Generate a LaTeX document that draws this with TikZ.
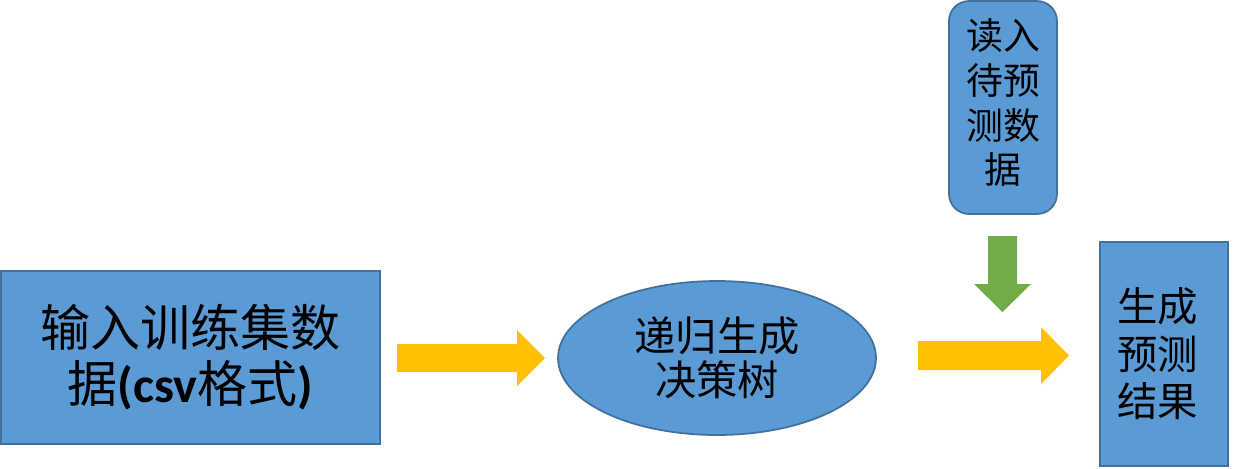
\documentclass[tikz,border=0pt]{standalone}
\usepackage{fontspec}
\usetikzlibrary{shapes.geometric}
\newfontfamily\cjk{Noto Sans CJK SC}
\newfontfamily\lat{Carlito}
\definecolor{boxblue}{HTML}{5B9BD5}
\definecolor{boxline}{HTML}{41719C}
\definecolor{arrowyellow}{HTML}{FFC000}
\definecolor{arrowgreen}{HTML}{70AD47}
\tikzset{
  blk/.style={draw=boxline, fill=boxblue, line width=1pt, inner sep=0pt, align=center, text=black},
  yarrow/.style={fill=arrowyellow, draw=none},
  garrow/.style={fill=arrowgreen, draw=none}
}
\begin{document}
\begin{tikzpicture}[x=0.02cm,y=-0.02cm]
\useasboundingbox (0,0) rectangle (1240,468);
\node[blk, rectangle, minimum width=7.58cm, minimum height=3.46cm,
  font=\cjk\fontsize{28.5}{32}\selectfont] (train) at (190.5,357.5)
  {输入训练集数\\据{\lat\bfseries (csv}格式{\lat\bfseries )}};
\node[blk, ellipse, minimum width=6.36cm, minimum height=3.08cm,
  font=\cjk\fontsize{23.5}{25}\selectfont] (tree) at (717,358)
  {递归生成\\决策树};
\node[blk, rectangle, rounded corners=0.4cm, minimum width=2.16cm, minimum height=4.26cm,
  font=\cjk\fontsize{21}{25.5}\selectfont] (read) at (1003,107.5)
  {\raisebox{-0.2cm}{}读入\\待预\\测数\\据\rule[-0.25cm]{0pt}{0pt}};
\node[blk, rectangle, minimum width=2.56cm, minimum height=4.48cm,
  font=\cjk\fontsize{23}{27}\selectfont, align=left] (result) at (1164,354)
  {\hspace*{-0.25cm}生成\\\hspace*{-0.25cm}预测\\\hspace*{-0.25cm}结果};
% block arrows
\fill[yarrow] (397,344) -- (517,344) -- (517,330) -- (545,358) -- (517,386) -- (517,372) -- (397,372) -- cycle;
\fill[yarrow] (918,341) -- (1041,341) -- (1041,327) -- (1069,355.5) -- (1041,384) -- (1041,370) -- (918,370) -- cycle;
\fill[garrow] (988,236) -- (1017,236) -- (1017,284) -- (1031,284) -- (1002.5,312) -- (974,284) -- (988,284) -- cycle;
\end{tikzpicture}
\end{document}
